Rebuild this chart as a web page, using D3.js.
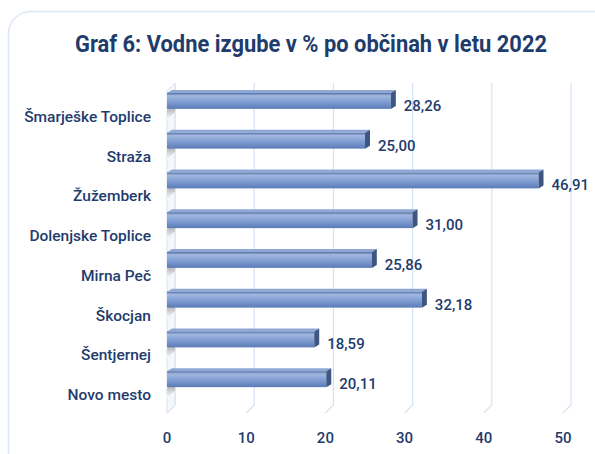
<!DOCTYPE html>
<html>
<head>
<meta charset="utf-8">
<script src="https://cdn.jsdelivr.net/npm/d3@7"></script>
<style>
  body { margin: 0; background: #fff; }
  text { font-family: Roboto, "Noto Sans", sans-serif; }
</style>
</head>
<body>
<script>
const categories = ["Šmarješke Toplice", "Straža", "Žužemberk", "Dolenjske Toplice",
                    "Mirna Peč", "Škocjan", "Šentjernej", "Novo mesto"]
const values = [28.26, 25.00, 46.91, 31.00, 25.86, 32.18, 18.59, 20.11]
const ticks = [0, 10, 20, 30, 40, 50]
const title = "Graf 6: Vodne izgube v % po občinah v letu 2022"

const W = 595, H = 454
const depth = {dx: 8, dy: 8}   // 3d offset of the back wall
const textColor = "#1f3c6c"

const svg = d3.select("body").append("svg")
  .attr("width", W)
  .attr("height", H)

const defs = svg.append("defs")
const barGrad = defs.append("linearGradient")
  .attr("id", "barGrad").attr("x1", 0).attr("x2", 0).attr("y1", 0).attr("y2", 1)
barGrad.append("stop").attr("offset", "0%").attr("stop-color", "#4f6ca3")
barGrad.append("stop").attr("offset", "18%").attr("stop-color", "#a2b7df")
barGrad.append("stop").attr("offset", "55%").attr("stop-color", "#819ed3")
barGrad.append("stop").attr("offset", "100%").attr("stop-color", "#5b7bb7")

const wallGrad = defs.append("linearGradient")
  .attr("id", "wallGrad").attr("x1", 0).attr("x2", 0).attr("y1", 0).attr("y2", 1)
wallGrad.append("stop").attr("offset", "0%").attr("stop-color", "#8e8e8e")
wallGrad.append("stop").attr("offset", "100%").attr("stop-color", "#ffffff")

// card outline
svg.append("rect")
  .attr("x", 8.5).attr("y", 11.5)
  .attr("width", 640).attr("height", 480)
  .attr("rx", 22)
  .attr("fill", "#fff")
  .attr("stroke", "#dce7f5")
  .attr("stroke-width", 1.5)

svg.append("text")
  .attr("x", 311)
  .attr("y", 52)
  .attr("text-anchor", "middle")
  .attr("textLength", 472)
  .attr("lengthAdjust", "spacingAndGlyphs")
  .style("font-size", "23px")
  .style("font-weight", "bold")
  .style("fill", textColor)
  .text(title)

const x = d3.scaleLinear().domain([0, 50]).range([167, 563])
const y = d3.scaleBand().domain(categories).range([81, 399])
const plotBottom = 413, plotTop = 91

// gridlines: back wall vertical + floor diagonal
const grid = svg.append("g")
ticks.forEach(t => {
  grid.append("path")
    .attr("d", `M${x(t) + depth.dx},${plotTop - depth.dy} V${plotBottom - depth.dy} L${x(t)},${plotBottom}`)
    .attr("fill", "none")
    .attr("stroke", "#d6e2f3")
    .attr("stroke-width", 1.2)
})

// left side wall
svg.append("path")
  .attr("d", `M${x(0)},${plotTop} L${x(0) + depth.dx},${plotTop - depth.dy} V${plotBottom - depth.dy} L${x(0)},${plotBottom} Z`)
  .attr("fill", "#f6f7fa")
  .attr("stroke", "#d6e2f3")

// bar shadows on the side wall
svg.append("g").selectAll("path")
  .data(categories)
  .join("path")
  .attr("d", d => {
    const y0 = y(d) + y.bandwidth() / 2 + 8
    return `M${x(0)},${y0 + 1} L${x(0) + depth.dx},${y0 - 7} V${y0 + 3} L${x(0)},${y0 + 11} Z`
  })
  .attr("fill", "url(#wallGrad)")

// bars
const bh = 16
const bars = svg.append("g").selectAll("g")
  .data(categories)
  .join("g")

bars.append("rect")
  .attr("x", x(0))
  .attr("y", d => y(d) + y.bandwidth() / 2 - bh / 2)
  .attr("width", (d, i) => x(values[i]) - x(0))
  .attr("height", bh)
  .attr("fill", "url(#barGrad)")

// top face
bars.append("path")
  .attr("d", (d, i) => {
    const yt = y(d) + y.bandwidth() / 2 - bh / 2
    return `M${x(0)},${yt} L${x(0) + 5},${yt - 3} H${x(values[i]) + 5} L${x(values[i])},${yt} Z`
  })
  .attr("fill", "#8fa7d3")

// end face
bars.append("path")
  .attr("d", (d, i) => {
    const yt = y(d) + y.bandwidth() / 2 - bh / 2
    const xe = x(values[i])
    return `M${xe},${yt} L${xe + 5},${yt - 3} V${yt + bh - 3} L${xe},${yt + bh} Z`
  })
  .attr("fill", "#3e5682")

// value labels
bars.append("text")
  .attr("x", (d, i) => x(values[i]) + 13)
  .attr("y", d => y(d) + y.bandwidth() / 2 + 10)
  .style("font-size", "15px")
  .style("font-weight", "500")
  .style("fill", textColor)
  .text((d, i) => values[i].toFixed(2).replace(".", ","))

// category labels
svg.append("g").selectAll("text")
  .data(categories)
  .join("text")
  .attr("x", 151)
  .attr("y", d => y(d) + y.bandwidth() / 2 + 21)
  .attr("text-anchor", "end")
  .style("font-size", "15.5px")
  .style("font-weight", "500")
  .style("fill", textColor)
  .text(d => d)

// x tick labels
svg.append("g").selectAll("text")
  .data(ticks)
  .join("text")
  .attr("x", d => x(d))
  .attr("y", 443)
  .attr("text-anchor", "middle")
  .style("font-size", "15px")
  .style("font-weight", "500")
  .style("fill", textColor)
  .text(d => d)
</script>
</body>
</html>
